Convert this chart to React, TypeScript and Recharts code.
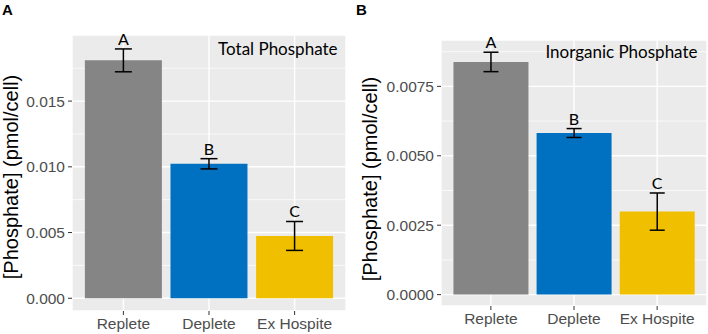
import React from 'react';
import {
  ComposedChart,
  Bar,
  Line,
  Cell,
  ErrorBar,
  LabelList,
  XAxis,
  YAxis,
  CartesianGrid
} from 'recharts';

// treatment groups, shared by both panels
const GROUPS = ['Replete', 'Deplete', 'Ex Hospite'];
const GROUP_COLORS = ['#858585', '#0070C0', '#F0C000'];
const LETTERS = ['A', 'B', 'C'];

// total phosphate, pmol/cell (mean, sd)
const TOTAL_MEAN = [0.0181, 0.01023, 0.00474];
const TOTAL_ERR = [0.00087, 0.00039, 0.0011];
const TOTAL_TICKS = [0, 0.005, 0.01, 0.015];
const TOTAL_MINOR = [0.0025, 0.0075, 0.0125, 0.0175];

// inorganic phosphate, pmol/cell (mean, sd)
const INORG_MEAN = [0.00838, 0.00582, 0.00299];
const INORG_ERR = [0.00035, 0.00016, 0.00067];
const INORG_TICKS = [0, 0.0025, 0.005, 0.0075];
const INORG_MINOR = [0.00125, 0.00375, 0.00625, 0.00875];

const AXIS_FONT = { fill: '#4D4D4D', fontSize: 15.5, fontFamily: '"Liberation Sans", Arial, sans-serif' };
const NOTE_FONT = 'Lato, "Open Sans", sans-serif';

interface PanelProps {
  means: number[];
  errs: number[];
  ticks: number[];
  minor: number[];
  domain: [number, number];
  digits: number;
  axisWidth: number;
  top: number;
  xHeight: number;
  right: number;
  pad: number;
  capWidth: number;
}

function Panel(p: PanelProps) {
  const rows = GROUPS.map((g, i) => ({
    group: g,
    mean: p.means[i],
    err: p.errs[i],
    top: p.means[i] + p.errs[i],
    letter: LETTERS[i]
  }));

  return (
    <ComposedChart
      width={354}
      height={334}
      data={rows}
      margin={{ top: p.top, right: p.right, bottom: 0, left: 0 }}
      barCategoryGap="5%"
    >
      <CartesianGrid fill="#EBEBEB" stroke="#FFFFFF" strokeWidth={1.4} />
      <CartesianGrid horizontalValues={p.minor} vertical={false} stroke="#FFFFFF" strokeWidth={0.7} />
      <XAxis
        dataKey="group"
        height={p.xHeight}
        padding={{ left: p.pad, right: p.pad }}
        axisLine={false}
        tickLine={{ stroke: '#333333', strokeWidth: 1 }}
        tickSize={4}
        tickMargin={3}
        tick={AXIS_FONT}
        interval={0}
      />
      <YAxis
        type="number"
        width={p.axisWidth}
        domain={p.domain}
        allowDataOverflow
        ticks={p.ticks}
        tickFormatter={(v: number) => v.toFixed(p.digits)}
        axisLine={false}
        tickLine={{ stroke: '#333333', strokeWidth: 1 }}
        tickSize={4}
        tickMargin={3}
        tick={AXIS_FONT}
      />
      <Bar dataKey="mean" isAnimationActive={false}>
        {rows.map((r, i) => (
          <Cell key={r.group} fill={GROUP_COLORS[i]} />
        ))}
        <ErrorBar dataKey="err" width={p.capWidth} stroke="#000000" strokeWidth={1.5} direction="y" />
      </Bar>
      {/* invisible series at the top of each error bar, carries the group letters */}
      <Line dataKey="top" stroke="none" dot={false} activeDot={false} isAnimationActive={false}>
        <LabelList dataKey="letter" position="top" offset={4} fill="#000000" fontSize={16} fontFamily={NOTE_FONT} />
      </Line>
    </ComposedChart>
  );
}

export default function App() {
  return (
    <div style={{ position: 'absolute', left: 0, top: 0, width: 708, height: 334, background: '#fff', overflow: 'hidden' }}>
      <div style={{ position: 'absolute', left: 0, top: 0 }}>
        <Panel
          means={TOTAL_MEAN}
          errs={TOTAL_ERR}
          ticks={TOTAL_TICKS}
          minor={TOTAL_MINOR}
          domain={[-0.00097, 0.02003]}
          digits={3}
          axisWidth={72}
          top={35}
          xHeight={23}
          right={8}
          pad={8.6}
          capWidth={8.5}
        />
      </div>
      <div style={{ position: 'absolute', left: 354, top: 0 }}>
        <Panel
          means={INORG_MEAN}
          errs={INORG_ERR}
          ticks={INORG_TICKS}
          minor={INORG_MINOR}
          domain={[-0.00041, 0.00917]}
          digits={4}
          axisWidth={87}
          top={40}
          xHeight={28}
          right={1}
          pad={8.3}
          capWidth={7.5}
        />
      </div>
      <svg width={708} height={334} style={{ position: 'absolute', left: 0, top: 0, pointerEvents: 'none' }}>
        <g fontFamily='"Liberation Sans", Arial, sans-serif'>
          <text x={2} y={15} fontSize={15} fontWeight="bold" fill="#000">A</text>
          <text x={356} y={15} fontSize={15} fontWeight="bold" fill="#000">B</text>
          <text x={17.5} y={177} fontSize={20} textAnchor="middle" transform="rotate(-90, 17.5, 177)" fill="#000">
            [Phosphate] (pmol/cell)
          </text>
          <text x={376.5} y={179} fontSize={20} textAnchor="middle" transform="rotate(-90, 376.5, 179)" fill="#000">
            [Phosphate] (pmol/cell)
          </text>
        </g>
        <g fontFamily={NOTE_FONT} fontSize={17} fill="#000" textAnchor="end">
          <text x={337.5} y={54.5}>Total Phosphate</text>
          <text x={697.5} y={58}>Inorganic Phosphate</text>
        </g>
      </svg>
    </div>
  );
}
